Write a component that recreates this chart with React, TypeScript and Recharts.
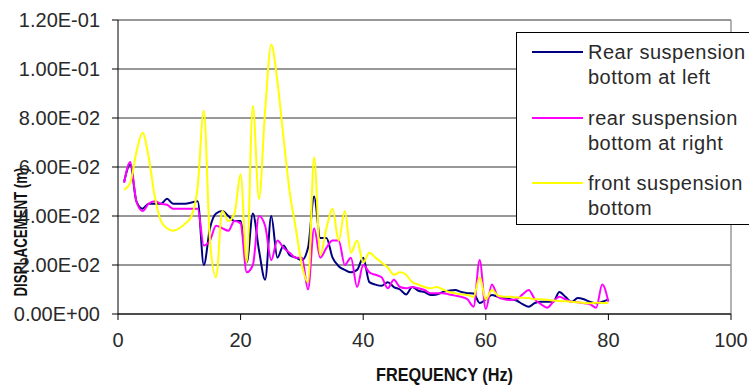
import React from "react"
import {
  LineChart,
  Line,
  XAxis,
  YAxis,
  CartesianGrid,
  ReferenceLine,
  Legend,
} from "recharts"

const freqs = [
  1, 2, 3, 4, 5, 6, 7, 8, 9, 10, 11, 12, 13, 14, 15, 16, 17, 18, 19, 20,
  21, 22, 23, 24, 25, 26, 27, 28, 29, 30, 31, 32, 33, 34, 35, 36, 37, 38, 39, 40,
  41, 42, 43, 44, 45, 46, 47, 48, 49, 50, 51, 52, 53, 54, 55, 56, 57, 58, 59, 60,
  61, 62, 63, 64, 65, 66, 67, 68, 69, 70, 71, 72, 73, 74, 75, 76, 77, 78, 79, 80,
]

const rearLeft = [
  0.054, 0.061, 0.046, 0.043, 0.045, 0.045, 0.045, 0.047, 0.045, 0.045,
  0.045, 0.0455, 0.046, 0.02, 0.035, 0.041, 0.042, 0.04, 0.038, 0.038,
  0.021, 0.041, 0.026, 0.014, 0.04, 0.023, 0.028, 0.024, 0.023, 0.022,
  0.027, 0.048, 0.031, 0.031, 0.023, 0.0195, 0.018, 0.017, 0.018, 0.023,
  0.013, 0.012, 0.0115, 0.013, 0.011, 0.01, 0.008, 0.011, 0.0095, 0.009,
  0.0078, 0.008, 0.009, 0.0095, 0.0098, 0.009, 0.0085, 0.0084, 0.0045, 0.006,
  0.0078, 0.007, 0.0065, 0.006, 0.0055, 0.004, 0.003, 0.0045, 0.005, 0.005,
  0.005, 0.009, 0.007, 0.005, 0.0065, 0.006, 0.005, 0.0044, 0.005, 0.006,
]

const rearRight = [
  0.0535, 0.062, 0.046, 0.042, 0.045, 0.046, 0.045, 0.0446, 0.043, 0.043,
  0.043, 0.043, 0.043, 0.028, 0.03, 0.036, 0.035, 0.034, 0.038, 0.037,
  0.017, 0.02, 0.04, 0.036, 0.022, 0.03, 0.027, 0.025, 0.023, 0.023,
  0.01, 0.035, 0.023, 0.027, 0.03, 0.03, 0.02, 0.023, 0.011, 0.02,
  0.017, 0.016, 0.015, 0.0105, 0.014, 0.011, 0.0105, 0.011, 0.0105, 0.0098,
  0.0085, 0.0085, 0.0085, 0.008, 0.0075, 0.007, 0.006, 0.003, 0.022, 0.002,
  0.012, 0.007, 0.006, 0.0057, 0.006, 0.008, 0.0098, 0.006, 0.004, 0.0026,
  0.005, 0.007, 0.006, 0.005, 0.0048, 0.0044, 0.004, 0.0026, 0.012, 0.005,
]

const front = [
  0.0507, 0.0535, 0.066, 0.074, 0.064, 0.048, 0.038, 0.035, 0.034, 0.035,
  0.037, 0.04, 0.052, 0.083, 0.03, 0.015, 0.042, 0.038, 0.041, 0.057,
  0.021, 0.085, 0.047, 0.083, 0.11, 0.095, 0.072, 0.05, 0.035, 0.02,
  0.013, 0.064, 0.024, 0.035, 0.043, 0.03, 0.042, 0.025, 0.03, 0.021,
  0.025, 0.023, 0.021, 0.019, 0.016, 0.017, 0.016, 0.013, 0.012, 0.011,
  0.0105, 0.011, 0.01, 0.009, 0.0085, 0.008, 0.0078, 0.007, 0.015, 0.006,
  0.0098, 0.0075, 0.007, 0.007, 0.0068, 0.0066, 0.0065, 0.006, 0.006, 0.0058,
  0.0055, 0.0053, 0.0052, 0.005, 0.0048, 0.0045, 0.0044, 0.0046, 0.0045, 0.0044,
]

const yTicks = [0, 0.02, 0.04, 0.06, 0.08, 0.1, 0.12]
const yTickLabels = [
  "0.00E+00",
  "2.00E-02",
  "4.00E-02",
  "6.00E-02",
  "8.00E-02",
  "1.00E-01",
  "1.20E-01",
]
const xTicks = [0, 20, 40, 60, 80, 100]

const series = [
  { key: "rearLeft", color: "#000080", lines: ["Rear suspension", "bottom at left"] },
  { key: "rearRight", color: "#ff00ff", lines: ["rear suspension", "bottom at right"] },
  { key: "front", color: "#ffff00", lines: ["front suspension", "bottom"] },
]

const data = freqs.map((f, i) => ({
  freq: f,
  rearLeft: rearLeft[i],
  rearRight: rearRight[i],
  front: front[i],
}))

const font = "'Liberation Sans', Arial, sans-serif"

function LegendBox() {
  return (
    <div
      style={{
        border: "1px solid #000",
        background: "#fff",
        width: 260,
        height: 193,
        boxSizing: "border-box",
        paddingTop: 7,
        fontFamily: font,
        fontSize: 20,
        lineHeight: "25px",
        letterSpacing: 0.5,
        color: "#2a2a2a",
      }}
    >
      {series.map((s) => (
        <div key={s.key} style={{ display: "flex", height: 50, marginBottom: 15.5 }}>
          <div style={{ width: 71, position: "relative" }}>
            <div
              style={{
                position: "absolute",
                left: 15,
                top: 11,
                width: 51,
                height: 2,
                background: s.color,
              }}
            />
          </div>
          <div style={{ whiteSpace: "nowrap" }}>
            {s.lines.map((l) => (
              <div key={l}>{l}</div>
            ))}
          </div>
        </div>
      ))}
    </div>
  )
}

export default function App() {
  return (
    <div
      style={{
        position: "fixed",
        left: 0,
        top: 0,
        width: 749,
        height: 385,
        overflow: "hidden",
        background: "#fff",
      }}
    >
      <LineChart
        width={749}
        height={385}
        data={data}
        margin={{ top: 20, right: 18, bottom: 0, left: 0 }}
      >
        <CartesianGrid vertical={false} stroke="#333" />
        <XAxis
          dataKey="freq"
          type="number"
          domain={[0, 100]}
          ticks={xTicks}
          height={71}
          tickSize={6}
          tickMargin={13}
          stroke="#000"
          tick={{ fill: "#2a2a2a", fontSize: 20, fontFamily: font }}
          label={{
            content: ({ viewBox }: any) => (
              <text
                x={viewBox.x + viewBox.width / 2 + 20}
                y={381}
                textAnchor="middle"
                textLength={137}
                lengthAdjust="spacingAndGlyphs"
                fontFamily={font}
                fontWeight="bold"
                fontSize={19}
                fill="#111"
              >
                FREQUENCY (Hz)
              </text>
            ),
          }}
        />
        <YAxis
          type="number"
          domain={[0, 0.12]}
          ticks={yTicks}
          width={118}
          tickSize={6}
          tickMargin={12}
          stroke="#000"
          interval={0}
          tickFormatter={(v: number) => yTickLabels[yTicks.indexOf(v)] ?? ""}
          tick={{ fill: "#2a2a2a", fontSize: 20, fontFamily: font }}
          label={{
            content: ({ viewBox }: any) => {
              const cx = 27
              const cy = viewBox.y + viewBox.height / 2 + 65
              return (
                <text
                  x={cx}
                  y={cy}
                  transform={`rotate(-90 ${cx} ${cy})`}
                  textAnchor="middle"
                  textLength={129}
                  lengthAdjust="spacingAndGlyphs"
                  fontFamily={font}
                  fontWeight="bold"
                  fontSize={19}
                  fill="#111"
                >
                  DISPLACEMENT (m)
                </text>
              )
            },
          }}
        />
        <ReferenceLine y={0.12} stroke="#999" strokeWidth={1.5} />
        <ReferenceLine x={100} stroke="#999" strokeWidth={1.5} />
        {series.map((s) => (
          <Line
            key={s.key}
            dataKey={s.key}
            type="monotone"
            stroke={s.color}
            strokeWidth={2}
            dot={false}
            isAnimationActive={false}
          />
        ))}
        <Legend
          layout="vertical"
          align="center"
          verticalAlign="middle"
          content={() => <LegendBox />}
          wrapperStyle={{ left: 516, top: 32, width: 260, height: 193 }}
        />
      </LineChart>
    </div>
  )
}
